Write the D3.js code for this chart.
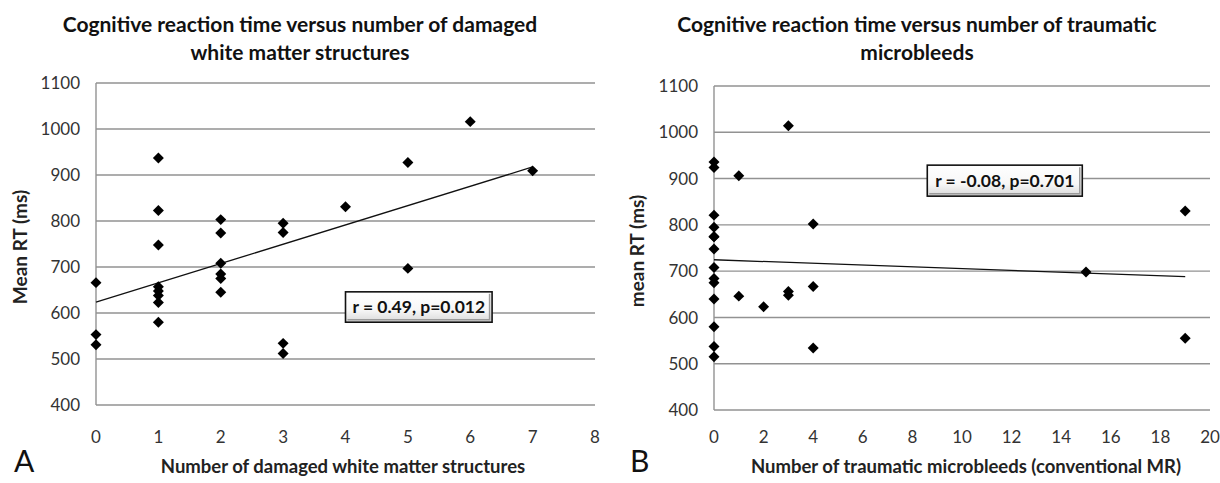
<!DOCTYPE html>
<html>
<head>
<meta charset="utf-8">
<script src="https://cdn.jsdelivr.net/npm/d3@7"></script>
<style>
  body { margin: 0; background: #fff; }
  svg { display: block; font-family: Lato, "Open Sans", sans-serif; }
</style>
</head>
<body>
<div id="chart"></div>
<script>
// Дані панелі A: кількість пошкоджених структур білої речовини / середній RT
const damagedCount = [0, 0, 0, 1, 1, 1, 1, 1, 1, 1, 1, 2, 2, 2, 2, 2, 2, 3, 3, 3, 3, 4, 5, 5, 6, 7];
const damagedRT = [666, 553, 531, 937, 823, 748, 657, 648, 638, 623, 580, 803, 774, 708, 685, 675, 645, 795, 775, 534, 512, 831, 927, 697, 1016, 909];

// Дані панелі B: кількість травматичних мікрокрововиливів / середній RT
const bleedCount = [0, 0, 0, 0, 0, 0, 0, 0, 0, 0, 0, 0, 0, 0, 1, 1, 2, 3, 3, 3, 4, 4, 4, 15, 19, 19];
const bleedRT = [936, 924, 821, 795, 775, 774, 748, 708, 684, 675, 640, 580, 537, 515, 906, 646, 623, 1014, 656, 648, 802, 667, 534, 698, 830, 555];

const rtTicks = [400, 500, 600, 700, 800, 900, 1000, 1100];
const damagedTicks = [0, 1, 2, 3, 4, 5, 6, 7, 8];
const bleedTicks = [0, 2, 4, 6, 8, 10, 12, 14, 16, 18, 20];

const WIDTH = 1220;
const HEIGHT = 483;

const svg = d3.select('#chart')
    .append('svg')
    .attr('width', WIDTH)
    .attr('height', HEIGHT);

// Градієнт для рамки з коефіцієнтом кореляції
const grad = svg.append('defs').append('linearGradient')
    .attr('id', 'boxGrad')
    .attr('x1', 0).attr('y1', 0).attr('x2', 0).attr('y2', 1);
grad.append('stop').attr('offset', '0%').attr('stop-color', '#ffffff');
grad.append('stop').attr('offset', '60%').attr('stop-color', '#f7f7f7');
grad.append('stop').attr('offset', '100%').attr('stop-color', '#d9d9d9');

// Лінійна регресія (лінія тренду як в Excel)
function linearFit(xs, ys) {
    const n = xs.length;
    const mx = d3.mean(xs), my = d3.mean(ys);
    let sxy = 0, sxx = 0;
    for (let i = 0; i < n; i++) {
        sxy += (xs[i] - mx) * (ys[i] - my);
        sxx += (xs[i] - mx) * (xs[i] - mx);
    }
    const slope = sxy / sxx;
    return { slope, intercept: my - slope * mx };
}

function drawPanel(p) {
    const x = d3.scaleLinear().domain(p.xDomain).range([p.left, p.right]);
    const y = d3.scaleLinear().domain([400, 1100]).range([p.bottom, p.top]);
    const g = svg.append('g');

    // Заголовок
    p.title.forEach((line, i) => {
        g.append('text')
            .attr('x', p.titleX)
            .attr('y', 32 + i * 28)
            .attr('text-anchor', 'middle')
            .attr('font-weight', 'bold')
            .attr('font-size', 21)
            .attr('fill', '#111')
            .text(line);
    });

    // Сітка
    g.selectAll('.grid')
        .data(rtTicks)
        .enter().append('line')
        .attr('x1', p.left).attr('x2', p.right)
        .attr('y1', d => y(d)).attr('y2', d => y(d))
        .attr('stroke', '#929292')
        .attr('stroke-width', 1.4);

    // Вісь Y
    g.append('line')
        .attr('x1', p.left).attr('x2', p.left)
        .attr('y1', y(1100)).attr('y2', y(400))
        .attr('stroke', '#929292')
        .attr('stroke-width', 1.4);

    // Підписи осей
    g.selectAll('.ylab')
        .data(rtTicks)
        .enter().append('text')
        .attr('x', p.left - 16)
        .attr('y', d => y(d))
        .attr('dy', '0.36em')
        .attr('text-anchor', 'end')
        .attr('font-size', 17)
        .attr('fill', '#333')
        .text(d => d);

    g.selectAll('.xlab')
        .data(p.xTicks)
        .enter().append('text')
        .attr('x', d => x(d))
        .attr('y', 443)
        .attr('text-anchor', 'middle')
        .attr('font-size', 17)
        .attr('fill', '#333')
        .text(d => d);

    g.append('text')
        .attr('transform', `translate(${p.yTitleX},${(p.top + p.bottom) / 2 + 3}) rotate(-90)`)
        .attr('text-anchor', 'middle')
        .attr('font-weight', 'bold')
        .attr('font-size', 19)
        .attr('fill', '#222')
        .text(p.yTitle);

    g.append('text')
        .attr('x', p.xTitleX)
        .attr('y', 473)
        .attr('text-anchor', 'middle')
        .attr('font-weight', 'bold')
        .attr('font-size', 18.5)
        .attr('fill', '#222')
        .text(p.xTitle);

    g.append('text')
        .attr('x', p.letterX)
        .attr('y', 472)
        .attr('font-size', 30)
        .attr('fill', '#111')
        .text(p.letter);

    // Лінія тренду
    const fit = linearFit(p.xs, p.ys);
    const x0 = 0, x1 = d3.max(p.xs);
    g.append('line')
        .attr('x1', x(x0)).attr('y1', y(fit.intercept + fit.slope * x0))
        .attr('x2', x(x1)).attr('y2', y(fit.intercept + fit.slope * x1))
        .attr('stroke', '#111')
        .attr('stroke-width', 1.3);

    // Точки (ромби)
    const diamond = d3.symbol().type(d3.symbolSquare).size(60);
    g.selectAll('.pt')
        .data(p.xs.map((d, i) => [d, p.ys[i]]))
        .enter().append('path')
        .attr('d', diamond)
        .attr('transform', d => `translate(${x(d[0])},${y(d[1])}) rotate(45)`)
        .attr('fill', '#000');

    // Рамка з r та p
    const bx = x(p.box[0]), by = y(p.box[1]);
    const bw = x(p.box[2]) - bx, bh = y(p.box[3]) - by;
    g.append('rect')
        .attr('x', bx).attr('y', by)
        .attr('width', bw).attr('height', bh)
        .attr('fill', 'url(#boxGrad)')
        .attr('stroke', '#111')
        .attr('stroke-width', 1.6);
    g.append('path')
        .attr('d', `M${bx + 2},${by + bh - 2.5}H${bx + bw - 2.5}V${by + 2}`)
        .attr('fill', 'none')
        .attr('stroke', '#9a9a9a')
        .attr('stroke-width', 1.5);
    g.append('text')
        .attr('x', bx + bw / 2)
        .attr('y', by + bh / 2)
        .attr('dy', '0.36em')
        .attr('text-anchor', 'middle')
        .attr('font-weight', 'bold')
        .attr('font-size', 17.5)
        .attr('fill', '#111')
        .text(p.boxText);
}

drawPanel({
    xs: damagedCount, ys: damagedRT,
    xDomain: [0, 8], xTicks: damagedTicks,
    left: 96, right: 595, top: 83, bottom: 405,
    title: ['Cognitive reaction time versus number of damaged', 'white matter structures'],
    titleX: 300,
    yTitle: 'Mean RT (ms)', yTitleX: 27,
    xTitle: 'Number of damaged white matter structures', xTitleX: 343,
    letter: 'A', letterX: 14,
    box: [4.0, 646, 6.35, 580],
    boxText: 'r = 0.49, p=0.012'
});

drawPanel({
    xs: bleedCount, ys: bleedRT,
    xDomain: [0, 20], xTicks: bleedTicks,
    left: 714, right: 1210, top: 86, bottom: 410,
    title: ['Cognitive reaction time versus number of traumatic', 'microbleeds'],
    titleX: 917,
    yTitle: 'mean RT (ms)', yTitleX: 644,
    xTitle: 'Number of traumatic microbleeds (conventional MR)', xTitleX: 966,
    letter: 'B', letterX: 630,
    box: [8.6, 929, 14.85, 862],
    boxText: 'r = -0.08, p=0.701'
});
</script>
</body>
</html>
